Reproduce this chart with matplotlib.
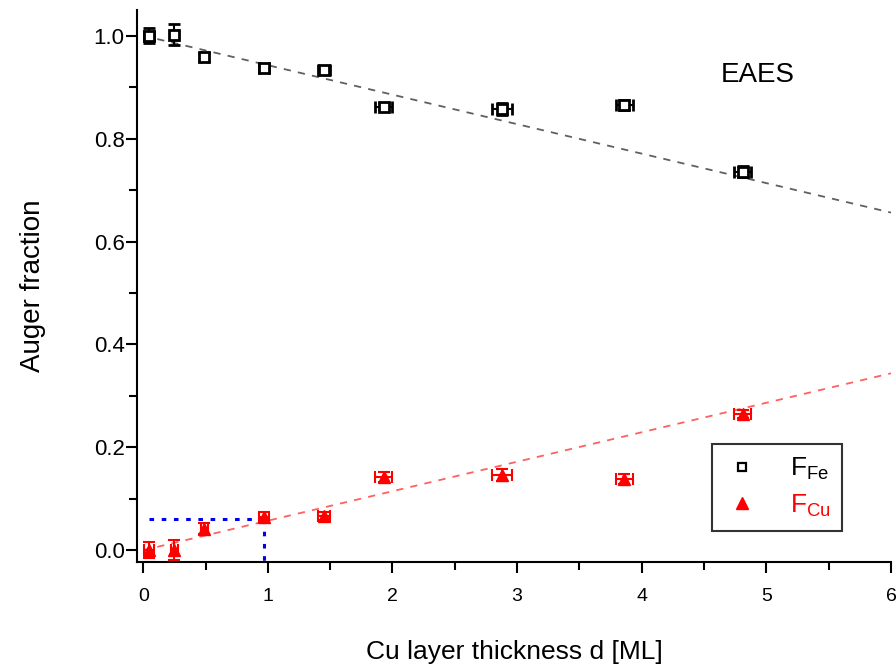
import matplotlib
matplotlib.use("Agg")
import matplotlib.pyplot as plt
import numpy as np
from matplotlib.ticker import MultipleLocator

plt.rcParams['font.family'] = ['Liberation Sans', 'DejaVu Sans']

# Cu layer thickness (ML)
thickness = [0.05, 0.25, 0.49, 0.97, 1.45, 1.93, 2.88, 3.86, 4.81]
thickness_err = [0.04, 0.03, 0.03, 0.04, 0.05, 0.07, 0.08, 0.07, 0.07]

# Fe Auger fraction
f_fe = [1.000, 1.002, 0.958, 0.937, 0.934, 0.862, 0.858, 0.866, 0.736]
f_fe_err = [0.015, 0.020, 0.008, 0.007, 0.007, 0.007, 0.012, 0.010, 0.010]

# Cu Auger fraction
f_cu = [0.000, 0.000, 0.042, 0.064, 0.066, 0.142, 0.146, 0.138, 0.265]
f_cu_err = [0.015, 0.020, 0.010, 0.010, 0.008, 0.010, 0.012, 0.010, 0.008]

# Linear fits
fit_slope = 0.0573
fit_x = [0.0, 6.0]

# One monolayer guide
ml_x = 0.97
ml_y = 0.06

fig = plt.figure(figsize=(8.96, 6.70), dpi=100)
ax = fig.add_axes([137/896, 1 - 562/670, (891 - 137)/896, (562 - 10)/670])

fx = np.array(fit_x)
ax.plot(fx, 1.0 - fit_slope * fx, ls=(0, (4, 4)), color='#606060', lw=1.3, zorder=1)
ax.plot(fx, fit_slope * fx, ls=(0, (4, 4)), color='#ff6060', lw=1.3, zorder=1)

ax.plot([thickness[0], ml_x], [ml_y, ml_y], ls=(0, (1.5, 2.5)), color='#0000ee', lw=2.2, zorder=2)
ax.plot([ml_x, ml_x], [ml_y, -0.023], ls=(0, (1.5, 2.5)), color='#0000ee', lw=2.2, zorder=2)

ax.errorbar(thickness, f_fe, xerr=thickness_err, yerr=f_fe_err, fmt='s',
            mfc='white', mec='black', mew=2.0, ms=7.5, ecolor='black',
            elinewidth=1.5, capsize=4, capthick=1.5, zorder=3)
ax.errorbar(thickness, f_cu, xerr=thickness_err, yerr=f_cu_err, fmt='^',
            mfc='red', mec='red', ms=9, ecolor='red',
            elinewidth=1.5, capsize=4, capthick=1.5, zorder=3)

ax.set_xlim(-0.05, 6.0)
ax.set_ylim(-0.023, 1.05)
ax.xaxis.set_major_locator(MultipleLocator(1))
ax.xaxis.set_minor_locator(MultipleLocator(0.5))
ax.yaxis.set_minor_locator(MultipleLocator(0.1))
ax.set_yticks([0.0, 0.2, 0.4, 0.6, 0.8, 1.0])
ax.set_yticklabels(['0.0', '0.2', '0.4', '0.6', '0.8', '1.0'])

for s in ['top', 'right']:
    ax.spines[s].set_visible(False)
for s in ['left', 'bottom']:
    ax.spines[s].set_linewidth(1.5)

ax.tick_params(axis='x', which='major', direction='out', length=8, width=1.5,
               labelsize=14, pad=11)
ax.tick_params(axis='y', which='major', direction='out', length=8, width=1.5,
               labelsize=16, pad=1)
ax.tick_params(which='minor', direction='out', length=6, width=1.5)

ax.set_xlabel('Cu layer thickness d [ML]', fontsize=19, labelpad=25)
ax.set_ylabel('Auger fraction', fontsize=20, labelpad=34)

ax.text(4.93, 0.924, 'EAES', fontsize=20, ha='center', va='center')

leg_handles = [
    plt.Line2D([], [], ls='none', marker='s', mfc='white', mec='black', mew=1.6, ms=6),
    plt.Line2D([], [], ls='none', marker='^', mfc='red', mec='red', ms=8),
]
leg = ax.legend(leg_handles, [r'$\mathregular{F_{Fe}}$', r'$\mathregular{F_{Cu}}$'],
                loc='upper left', borderaxespad=0,
                frameon=True, fancybox=False, edgecolor='black', fontsize=19,
                handletextpad=1.1, borderpad=0.45, labelspacing=0.4,
                handlelength=1.4)
leg.set_bbox_to_anchor(((712 - 137) / (891 - 137), (562 - 444) / (562 - 10)),
                       transform=ax.transAxes)
leg.get_frame().set_linewidth(1.5)
leg.texts[0].set_color('black')
leg.texts[1].set_color('red')

fig.savefig('out.png', dpi=100)
